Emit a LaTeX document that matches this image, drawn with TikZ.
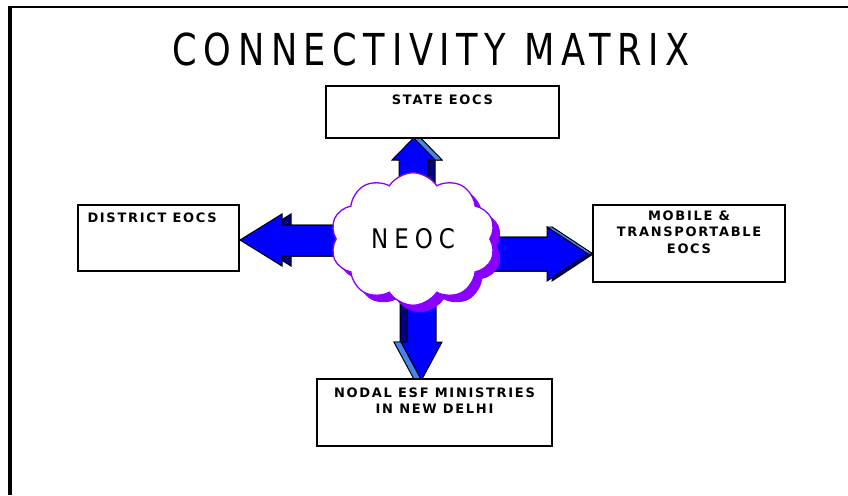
\documentclass[tikz,border=0pt]{standalone}
\usepackage{fontspec}
\usepackage{xcolor}
\usetikzlibrary{positioning,shapes.symbols,shadows}
\definecolor{neocviolet}{HTML}{8A00FF}
\definecolor{eocblue}{HTML}{0000FF}
\definecolor{eocnavy}{HTML}{000080}
\definecolor{eoclight}{HTML}{4682F0}
\newfontfamily\titlefont[FakeStretch=0.8,LetterSpace=15]{DejaVu Sans}
\newfontfamily\neocfont[FakeStretch=0.85,LetterSpace=22]{DejaVu Sans}
\newfontfamily\labelfont[LetterSpace=13]{DejaVu Sans}

\begin{document}
\begin{tikzpicture}[x=1pt, y=-1pt,
    eocbox/.style={draw, line width=1.4pt, fill=white, inner sep=0pt},
    boxlabel/.style={font=\labelfont\bfseries\fontsize{13}{16.5}\selectfont, align=center, inner sep=0pt},
    arrowbody/.style={fill=eocblue, draw=black, line width=1pt},
    arrowside/.style={fill=eocnavy, draw=black, line width=1pt},
    arrowbevel/.style={fill=eoclight, draw=black, line width=0.8pt}]
        \useasboundingbox (0,0) rectangle (848,495);
        % Marco de la diapositiva
        \draw[line width=2pt] (8,7) -- (848,7);
        \draw[line width=3.5pt] (10,6) -- (10,495);
        % Titulo
        \node[font=\titlefont\fontsize{44}{44}\selectfont, anchor=base, inner sep=0pt] (title) at (431,66) {CONNECTIVITY MATRIX};
        % Flecha hacia arriba
        \draw[arrowside, shift={(7,0)}] (399,200) -- (399,160) -- (392,160) -- (413.5,138) -- (435,160) -- (428,160) -- (428,200) -- cycle;
        \draw[arrowbevel] (413.5,138) -- (435,160) -- (442,160) -- (420.5,138) -- cycle;
        \draw[arrowbody] (399,200) -- (399,160) -- (392,160) -- (413.5,138) -- (435,160) -- (428,160) -- (428,200) -- cycle;
        % Flecha hacia la izquierda
        \draw[arrowside, shift={(9,0)}] (345,225) -- (282,225) -- (282,214) -- (240,240) -- (282,266) -- (282,256) -- (345,256) -- cycle;
        \draw[arrowbody] (345,225) -- (282,225) -- (282,214) -- (240,240) -- (282,266) -- (282,256) -- (345,256) -- cycle;
        % Flecha hacia la derecha
        \draw[arrowside, shift={(5,0)}] (470,237) -- (547,237) -- (547,227) -- (588,254) -- (547,281) -- (547,271) -- (470,271) -- cycle;
        \draw[arrowbevel] (547,227) -- (588,254) -- (593,254) -- (552,227) -- cycle;
        \draw[arrowbody] (470,237) -- (547,237) -- (547,227) -- (588,254) -- (547,281) -- (547,271) -- (470,271) -- cycle;
        % Flecha hacia abajo
        \draw[arrowside, shift={(-7,0)}] (407,280) -- (407,342) -- (401,342) -- (421.5,380) -- (442,342) -- (436,342) -- (436,280) -- cycle;
        \draw[arrowbevel] (401,342) -- (421.5,380) -- (414.5,380) -- (394,342) -- cycle;
        \draw[arrowbody] (407,280) -- (407,342) -- (401,342) -- (421.5,380) -- (442,342) -- (436,342) -- (436,280) -- cycle;
        % Cajas de los EOC
        \node[eocbox, minimum width=233pt, minimum height=52pt] (state) at (442.5,112) {};
        \node[boxlabel, below=9pt of state.north] (stateText) {STATE EOCS};
        \node[eocbox, minimum width=161pt, minimum height=66pt] (district) at (158.5,238) {};
        \node[boxlabel, below right=8pt and 10pt of district.north west] (districtText) {DISTRICT EOCS};
        \node[eocbox, minimum width=192pt, minimum height=77pt] (mobile) at (689,243.5) {};
        \node[boxlabel, below=6pt of mobile.north] (mobileText) {MOBILE \&\\TRANSPORTABLE\\EOCS};
        \node[eocbox, minimum width=235pt, minimum height=67pt] (nodal) at (434.5,412.5) {};
        \node[boxlabel, below=9pt of nodal.north] (nodalText) {NODAL ESF MINISTRIES\\IN NEW DELHI};
        % Nube central
        \node[cloud, cloud puffs=10, cloud puff arc=115, draw=neocviolet, line width=1.3pt, fill=white,
              minimum width=165pt, minimum height=120pt, inner sep=0pt,
              font=\neocfont\fontsize{27}{27}\selectfont,
              drop shadow={shadow xshift=7pt, shadow yshift=-7pt, fill=neocviolet, opacity=1}] (neoc) at (413,239) {NEOC};
    \end{tikzpicture}
\end{document}
